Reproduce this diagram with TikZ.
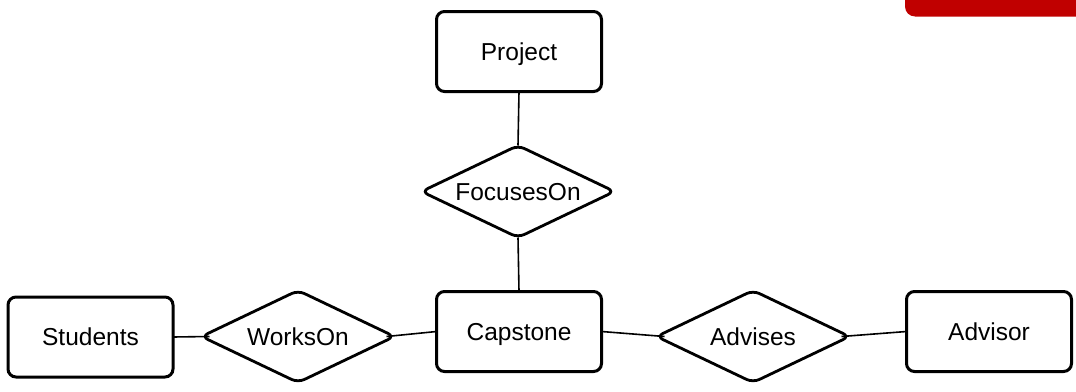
\documentclass[tikz,border=0pt]{standalone}
\usepackage{fontspec}
\setmainfont{Liberation Sans}
\usetikzlibrary{shapes.geometric,calc}
\definecolor{bannerred}{RGB}{192,0,0}
\begin{document}
\begin{tikzpicture}[x=1pt, y=-1pt,
  label text/.style={font=\fontsize{24.5}{28}\selectfont,
    text height=17.5pt, text depth=0pt},
  entity/.style={draw, line width=3pt, rounded corners=8pt, rectangle,
    minimum width=165pt, minimum height=80pt, inner sep=0pt, outer sep=0pt,
    label text},
  relation/.style={draw, line width=2.8pt, diamond, rounded corners=7pt,
    minimum width=193pt, minimum height=92pt, inner sep=0pt, outer sep=0pt,
    shape aspect=2, label text},
  link/.style={line width=1.6pt}]
  \useasboundingbox (0,0) rectangle (1076,391);

  % corner banner
  \fill[bannerred, rounded corners=10pt] (1076,-20) -- (905,-20) -- (905,16.5)
    [sharp corners] -- (1096,16.5) -- (1096,-20) -- cycle;

  % entities
  \node[entity] (project)  at (519,51.5)  {Project};
  \node[entity] (capstone) at (519,331.5) {Capstone};
  \node[entity] (students) at (90.5,337)  {Students};
  \node[entity] (advisor)  at (989,331.5) {Advisor};

  % relationships
  \node[relation] (focus)   at (518,191.5) {FocusesOn};
  \node[relation] (workson) at (298,336.5) {WorksOn};
  \node[relation] (advises) at (753,336.5) {Advises};

  % connectors (side tips of the diamonds are rounded, so they sit a little inside the anchor)
  \draw[link] (project.south) -- (focus.north);
  \draw[link] (focus.south) -- (capstone.north);
  \draw[link] (students.east) -- ($(workson.west)+(8,0)$);
  \draw[link] ($(workson.east)-(8,0)$) -- (capstone.west);
  \draw[link] (capstone.east) -- ($(advises.west)+(8,0)$);
  \draw[link] ($(advises.east)-(8,0)$) -- (advisor.west);
\end{tikzpicture}
\end{document}
